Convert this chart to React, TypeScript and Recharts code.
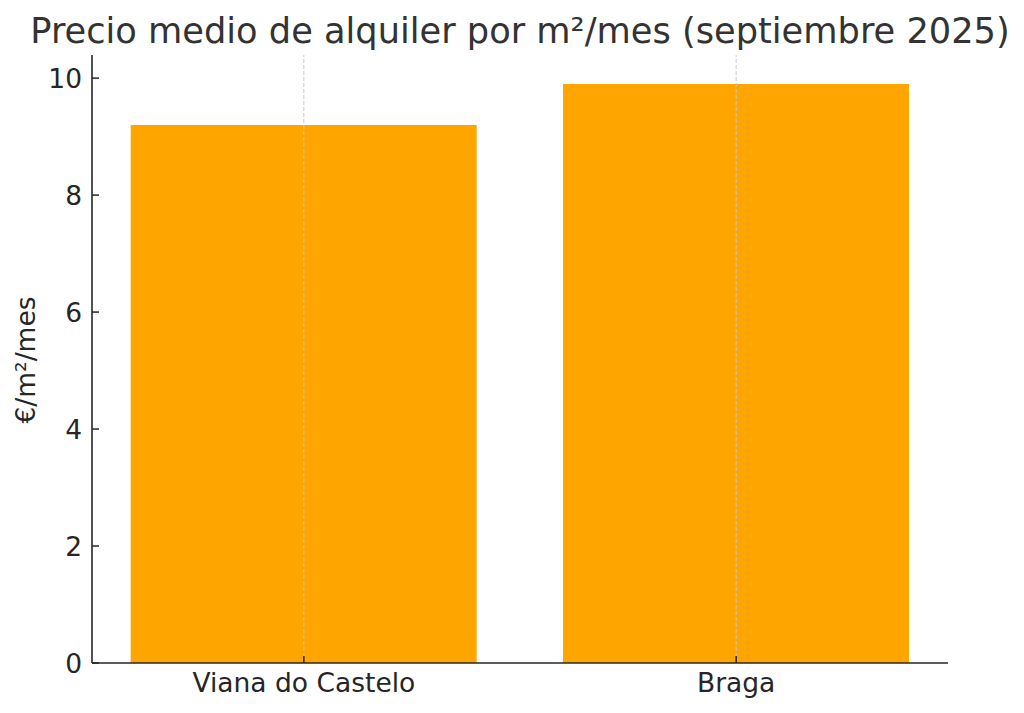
import { BarChart, Bar, XAxis, YAxis, ReferenceLine } from 'recharts'

const cities = ['Viana do Castelo', 'Braga']
const prices = [9.2, 9.9]
const yTicks = [0, 2, 4, 6, 8, 10]

const data = cities.map((city, i) => ({ idx: i, city, price: prices[i] }))

const FONT = "'DejaVu Sans', sans-serif"
const INK = '#262626'

function YTick(props: any) {
  const { x, y, payload } = props
  return (
    <g>
      <line x1={x + 10} x2={x + 17} y1={y} y2={y} stroke={INK} strokeWidth={1.5} />
      <text x={x} y={y} dy="0.36em" textAnchor="end" fill={INK} fontSize={26.5} fontFamily={FONT}>
        {payload.value}
      </text>
    </g>
  )
}

function XTick(props: any) {
  const { x, y, payload } = props
  return (
    <g>
      <line x1={x} x2={x} y1={y - 9} y2={y - 16} stroke={INK} strokeWidth={1.5} />
      <text x={x} y={y} dy="0.76em" textAnchor="middle" fill={INK} fontSize={26.5} fontFamily={FONT}>
        {cities[payload.value]}
      </text>
    </g>
  )
}

export default function App() {
  return (
    <div style={{ position: 'absolute', left: 0, top: 0, width: 1024, height: 713, background: '#fff' }}>
      <BarChart
        width={1024}
        height={713}
        data={data}
        margin={{ top: 55, right: 76, bottom: 0, left: 0 }}
      >
        <XAxis
          type="number"
          dataKey="idx"
          domain={[-0.49, 1.49]}
          ticks={[0, 1]}
          height={50}
          tickSize={0}
          tickLine={false}
          tickMargin={9}
          tick={<XTick />}
          axisLine={{ stroke: INK, strokeWidth: 1.6 }}
          allowDataOverflow
        />
        <YAxis
          type="number"
          domain={[0, 10.395]}
          ticks={yTicks}
          width={92}
          tickSize={0}
          tickLine={false}
          tickMargin={10}
          tick={<YTick />}
          axisLine={{ stroke: INK, strokeWidth: 1.6 }}
          allowDataOverflow
        />
        <Bar dataKey="price" fill="#FFA500" barSize={346} isAnimationActive={false} />
        {[0, 1].map((v) => (
          <ReferenceLine key={v} x={v} stroke="#c8c8c8" strokeWidth={1} strokeDasharray="4 2" />
        ))}
      </BarChart>
      <svg
        width={1024}
        height={713}
        style={{ position: 'absolute', left: 0, top: 0, pointerEvents: 'none' }}
      >
        <text x={520} y={43} textAnchor="middle" fill="#333333" fontSize={35.2} fontFamily={FONT}>
          Precio medio de alquiler por m²/mes (septiembre 2025)
        </text>
        <text
          x={35}
          y={360}
          transform="rotate(-90 35 360)"
          textAnchor="middle"
          fill={INK}
          fontSize={26.5}
          fontFamily={FONT}
        >
          €/m²/mes
        </text>
      </svg>
    </div>
  )
}
